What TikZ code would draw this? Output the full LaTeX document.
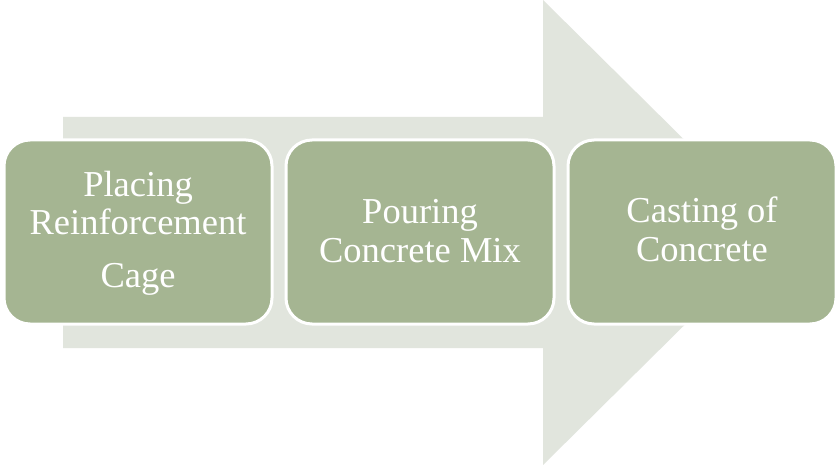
\documentclass[tikz,border=0pt]{standalone}
\usepackage{fontspec}
\setmainfont{Liberation Serif}
\definecolor{arrowfill}{HTML}{E1E5DD}
\definecolor{boxfill}{HTML}{A5B592}
\begin{document}
\begin{tikzpicture}[x=1pt,y=-1pt,
  stepbox/.style={rectangle, rounded corners=26pt, draw=white, line width=3pt,
    fill=boxfill, minimum width=268pt, minimum height=184pt, inner sep=0pt},
  steptext/.style={text=white, font=\fontsize{36.5}{38.5}\selectfont, align=center, anchor=base, inner sep=0pt}]
\useasboundingbox (0,0) rectangle (840,465);
\fill[white] (0,0) rectangle (840,465);
\fill[arrowfill] (63,117) -- (543,117) -- (543,0) -- (778,232.5) -- (543,465) -- (543,348) -- (63,348) -- cycle;
\node[stepbox] (b1) at (138,232) {};
\node[stepbox] (b2) at (420,232) {};
\node[stepbox] (b3) at (702,232) {};
\node[steptext] (t1) at (138,287) {Placing\\Reinforcement\\[14pt]Cage};
\node[steptext] (t2) at (420,262) {Pouring\\Concrete Mix};
\node[steptext] (t3) at (702,261) {Casting of\\Concrete};
\end{tikzpicture}
\end{document}
